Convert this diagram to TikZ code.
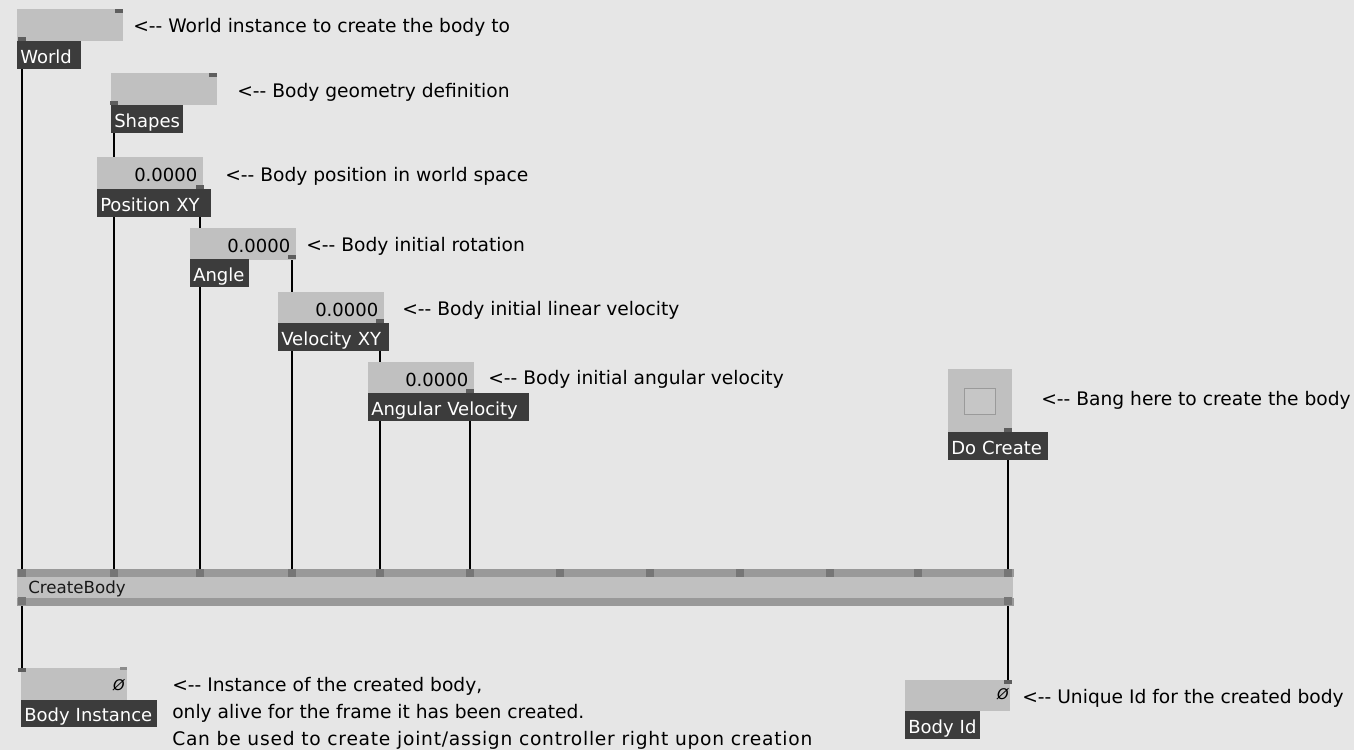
\documentclass[tikz,border=0pt]{standalone}
\usepackage{fontspec}
\setmainfont{DejaVu Sans}
\usetikzlibrary{calc}
\pgfdeclarelayer{canvas}
\pgfdeclarelayer{wires}
\pgfsetlayers{canvas,wires,main}
\definecolor{bg}{HTML}{E6E6E6}
\definecolor{boxgray}{HTML}{C0C0C0}
\definecolor{lbl}{HTML}{3C3C3C}
\definecolor{pindark}{HTML}{5E5E5E}
\definecolor{pinmid}{HTML}{8C8C8C}
\definecolor{band}{HTML}{999999}
\definecolor{bangedge}{HTML}{9A9A9A}
\definecolor{bangfill}{HTML}{C6C6C6}
\newcommand\cmtfont{\fontsize{14}{16}\selectfont}
\newcommand\lblfont{\fontsize{13.5}{16}\selectfont}
\newcommand\valfont{\fontsize{13.5}{16}\selectfont}
\newcommand\nodefont{\fontsize{12.5}{15}\selectfont}
\begin{document}
\begin{tikzpicture}[x=0.75pt,y=-0.75pt,
  iobox/.style={anchor=north west, fill=boxgray, inner sep=0pt,
    minimum width=79.5pt, minimum height=24pt},
  valbox/.style={iobox, font=\valfont, align=right, text width=70.5pt,
    inner xsep=4.5pt, text height=12pt, text depth=0pt},
  labelbox/.style={anchor=north west, fill=lbl, text=white, font=\lblfont,
    inner xsep=2.25pt, inner ysep=0pt, minimum height=21pt,
    text height=12.5pt, text depth=0.5pt, align=left},
  pinmark/.style={fill=pindark, inner sep=0pt, minimum width=6pt, minimum height=3pt},
  pinlight/.style={fill=pinmid, inner sep=0pt, minimum width=5.25pt, minimum height=2.25pt},
  cbpin/.style={fill=pindark!85, inner sep=0pt, minimum width=6pt, minimum height=6pt},
  wire/.style={line width=1.5pt, black},
  cmt/.style={anchor=base west, font=\cmtfont, text=black, inner sep=0pt}]
\useasboundingbox (0,0) rectangle (1354,750);
\begin{pgfonlayer}{canvas}
  \fill[bg] (0,0) rectangle (1354,750);
\end{pgfonlayer}

% ---------- input IOBoxes ----------
\node[iobox] (world) at (17,9) {};
\node[pinmark] (worldtr) at (119,10.5) {};
\node[pinmark] (worldout) at (22,39) {};
\node[labelbox, text width=43.5pt] (worldlbl) at (17,41) {\mbox{World}};

\node[iobox] (shapes) at (111,73) {};
\node[pinmark] (shapestr) at (213,74.5) {};
\node[pinmark] (shapesout) at (114,103) {};
\node[labelbox, text width=49.5pt] (shapeslbl) at (111,105) {\mbox{Shapes}};

\node[valbox] (pos) at (97,157) {0.0000};
\node[pinmark] (posout) at (200,187) {};
\node[labelbox, text width=81pt] (poslbl) at (97,189) {\mbox{Position XY}};

\node[valbox] (angle) at (190,228) {0.0000};
\node[pinmark] (angleout) at (292,257) {};
\node[labelbox, text width=39.75pt] (anglelbl) at (190,259) {\mbox{Angle}};

\node[valbox] (vel) at (278,292) {0.0000};
\node[pinmark] (velout) at (380,321) {};
\node[labelbox, text width=78.75pt] (vellbl) at (278,323) {\mbox{Velocity XY}};

\node[valbox] (angvel) at (368,362) {0.0000};
\node[pinmark] (angvelout) at (470,391) {};
\node[labelbox, text width=116.25pt] (angvellbl) at (368,393) {\mbox{Angular Velocity}};

\node[iobox, minimum width=48pt, minimum height=47.25pt] (bang) at (948,369) {};
\node[draw=bangedge, fill=bangfill, line width=1.1pt, minimum width=23pt,
  minimum height=19.5pt, inner sep=0pt] (bangsq) at (980,401.5) {};
\node[pinmark] (bangout) at (1008,430) {};
\node[labelbox, text width=70.5pt] (banglbl) at (948,432) {\mbox{Do Create}};

% ---------- CreateBody node ----------
\node[anchor=north west, fill=boxgray, inner sep=0pt, minimum width=747pt,
  minimum height=27pt] (cb) at (17,569) {};
\fill[band] (cb.north west) rectangle ($(cb.north east)+(0,8)$);
\fill[band] (cb.south west) rectangle ($(cb.south east)+(0,-8)$);
\node[anchor=base west, font=\nodefont, text=black!90, inner sep=0pt] (cbname) at (28,593) {CreateBody};
\foreach \i/\x in {1/22,2/114,3/200,4/292,5/380,6/470,7/560,8/650,9/740,10/830,11/918,12/1008}
  \node[cbpin] (in\i) at (\x,573) {};
\node[cbpin] (out1) at (22,601) {};
\node[cbpin] (out2) at (1008,601) {};

% ---------- output IOBoxes ----------
\node[iobox] (inst) at (21,668) {};
\node[pinmark] (instin) at (22,669.5) {};
\node[pinlight] (insttr) at (123.5,668.5) {};
\node[anchor=base east, font=\itshape\fontsize{11}{13}\selectfont, inner sep=0pt] (instval) at (125,690) {Ø};
\node[labelbox, text width=97.5pt, minimum height=20.25pt] (instlbl) at (21,700) {\mbox{Body Instance}};

\node[iobox, minimum width=78.75pt, minimum height=23.25pt] (bid) at (905,680) {};
\node[pinmark] (bidin) at (1008,681.5) {};
\node[anchor=base east, font=\itshape\fontsize{11}{13}\selectfont, inner sep=0pt] (bidval) at (1009,699) {Ø};
\node[labelbox, text width=51.75pt] (bidlbl) at (905,711) {\mbox{Body Id}};

% ---------- wires ----------
\begin{pgfonlayer}{wires}
  \draw[wire] (worldout.center) -- (in1.center);
  \draw[wire] (shapesout.center) -- (in2.center);
  \draw[wire] (posout.center) -- (in3.center);
  \draw[wire] (angleout.center) -- (in4.center);
  \draw[wire] (velout.center) -- (in5.center);
  \draw[wire] (angvelout.center) -- (in6.center);
  \draw[wire] (bangout.center) -- (in12.center);
  \draw[wire] (out1.center) -- (instin.center);
  \draw[wire] (out2.center) -- (bidin.center);
\end{pgfonlayer}

% ---------- comments ----------
\node[cmt] (c1) at (133,32) {<-{}- World instance to create the body to};
\node[cmt] (c2) at (237,97) {<-{}- Body geometry definition};
\node[cmt] (c3) at (225,181) {<-{}- Body position in world space};
\node[cmt] (c4) at (306,251) {<-{}- Body initial rotation};
\node[cmt] (c5) at (402,315) {<-{}- Body initial linear velocity};
\node[cmt] (c6) at (488,384) {<-{}- Body initial angular velocity};
\node[cmt] (c7) at (1041,405) {<-{}- Bang here to create the body};
\node[cmt] (c8) at (172,691) {<-{}- Instance of the created body,};
\node[cmt] (c9) at (172,718) {only alive for the frame it has been created.};
\node[cmt] (c10) at (172,745) {\addfontfeature{LetterSpace=4}Can be used to create joint/assign controller right upon creation};
\node[cmt] (c11) at (1022,703) {<-{}- Unique Id for the created body};
\end{tikzpicture}
\end{document}
